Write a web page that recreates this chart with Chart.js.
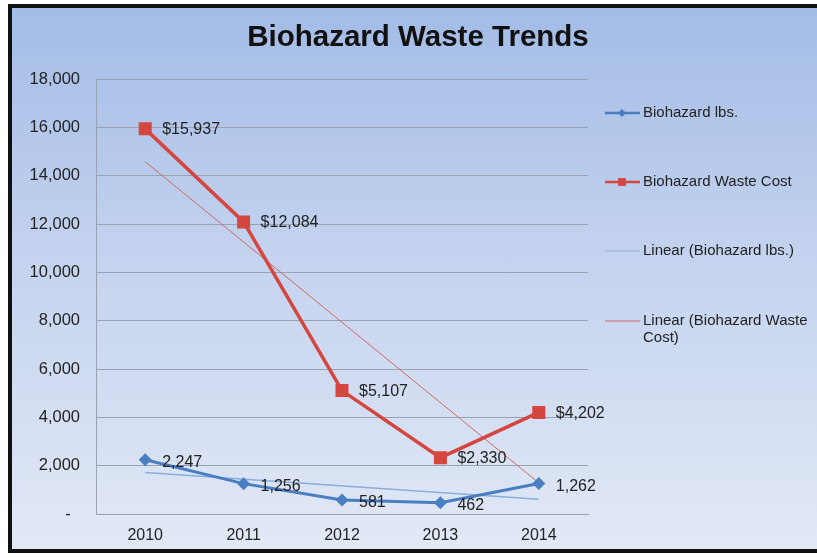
<!DOCTYPE html>
<html>
<head>
<meta charset="utf-8">
<script src="https://cdn.jsdelivr.net/npm/chart.js@4.4.1/dist/chart.umd.min.js"></script>
<style>
    html, body { margin: 0; padding: 0; width: 817px; height: 558px; overflow: hidden; background: #fff; }
    .frame {
        position: absolute; left: 8px; top: 4px; width: 840px; height: 549px;
        box-sizing: border-box; border: 4px solid #111;
        background: linear-gradient(to bottom, #a3bce6 0%, #c3d2ee 45%, #e2e9f6 100%);
    }
    #chart { position: absolute; left: 0; top: 0; }
</style>
</head>
<body>
<div class="frame"></div>
<canvas id="chart" width="817" height="558"></canvas>
<script>
// chart data
var years = ["2010", "2011", "2012", "2013", "2014"];
var biohazardLbs = [2247, 1256, 581, 462, 1262];
var biohazardCost = [15937, 12084, 5107, 2330, 4202];
// linear trend lines, end points
var trendLbs = [1714, null, null, null, 609];
var trendCost = [14577, null, null, null, 1287];
var yTicks = { min: 0, max: 18000, step: 2000 };

var FONT = "'Liberation Sans', Arial, sans-serif";
var BLUE = '#4a7ec2';
var RED = '#d4463f';

function fmt(n) {
    return n.toLocaleString('en-US');
}

// value labels next to the markers
var valueLabels = {
    id: 'valueLabels',
    afterDatasetsDraw: function (chart) {
        var ctx = chart.ctx;
        ctx.save();
        ctx.font = '16px ' + FONT;
        ctx.fillStyle = '#222';
        ctx.textAlign = 'left';
        ctx.textBaseline = 'middle';
        [0, 1].forEach(function (di) {
            var meta = chart.getDatasetMeta(di);
            var ds = chart.data.datasets[di];
            meta.data.forEach(function (pt, i) {
                var v = ds.data[i];
                var txt = di === 1 ? '$' + fmt(v) : fmt(v);
                ctx.fillText(txt, pt.x + 17, pt.y + (di === 0 ? 3 : 1));
            });
        });
        ctx.restore();
    }
};

// title and legend drawn by hand to sit where the original has them
var titleLegend = {
    id: 'titleLegend',
    afterDraw: function (chart) {
        var ctx = chart.ctx;
        ctx.save();
        ctx.fillStyle = '#111';
        ctx.font = 'bold 29.5px ' + FONT;
        ctx.textAlign = 'center';
        ctx.textBaseline = 'middle';
        ctx.fillText('Biohazard Waste Trends', 418, 38);

        var rows = [113, 182, 251, 321];
        ctx.font = '15px ' + FONT;
        ctx.textAlign = 'left';
        chart.data.datasets.forEach(function (ds, i) {
            var y = rows[i];
            ctx.strokeStyle = ds.borderColor;
            ctx.lineWidth = i < 2 ? 2.5 : 1.2;
            ctx.beginPath();
            ctx.moveTo(605, y);
            ctx.lineTo(640, y);
            ctx.stroke();
            if (i < 2) {
                ctx.fillStyle = ds.borderColor;
                Chart.helpers.drawPoint(ctx, { pointStyle: ds.pointStyle, radius: i === 0 ? 4 : 5.5, borderWidth: 0 }, 622, y);
            }
            // wrap long labels
            var words = ds.label.split(' ');
            var line = '', lines = [];
            words.forEach(function (w) {
                var test = line ? line + ' ' + w : w;
                if (ctx.measureText(test).width > 170 && line) {
                    lines.push(line);
                    line = w;
                } else {
                    line = test;
                }
            });
            lines.push(line);
            ctx.fillStyle = '#222';
            lines.forEach(function (l, k) {
                ctx.fillText(l, 643, y + k * 17);
            });
        });
        ctx.restore();
    }
};

var ctx = document.getElementById('chart').getContext('2d');

new Chart(ctx, {
    type: 'line',
    data: {
        labels: years,
        datasets: [
            {
                label: 'Biohazard lbs.',
                data: biohazardLbs,
                borderColor: BLUE,
                backgroundColor: BLUE,
                borderWidth: 3,
                pointStyle: 'rectRot',
                pointRadius: 6.5,
                pointBorderWidth: 0,
                tension: 0
            },
            {
                label: 'Biohazard Waste Cost',
                data: biohazardCost,
                borderColor: RED,
                backgroundColor: RED,
                borderWidth: 3.5,
                pointStyle: 'rect',
                pointRadius: 9.2,
                pointBorderWidth: 0,
                tension: 0
            },
            {
                label: 'Linear (Biohazard lbs.)',
                data: trendLbs,
                borderColor: '#8caddb',
                borderWidth: 1.5,
                pointRadius: 0,
                spanGaps: true
            },
            {
                label: 'Linear (Biohazard Waste Cost)',
                data: trendCost,
                borderColor: '#cf6a66',
                borderWidth: 1,
                pointRadius: 0,
                spanGaps: true
            }
        ]
    },
    options: {
        responsive: false,
        animation: false,
        layout: { padding: { left: 0, right: 229, top: 79, bottom: 0 } },
        plugins: {
            legend: { display: false },
            tooltip: { enabled: false },
            title: { display: false }
        },
        scales: {
            x: {
                offset: true,
                grid: { display: false, drawTicks: false },
                border: { display: true, color: '#98a2b2', width: 1 },
                ticks: { color: '#222', font: { family: FONT, size: 16 }, padding: 12 },
                afterFit: function (s) { s.height = 44; }
            },
            y: {
                min: yTicks.min,
                max: yTicks.max,
                grid: { color: '#98a2b2', lineWidth: 1, drawTicks: false },
                border: { display: true, color: '#98a2b2', width: 1 },
                ticks: {
                    stepSize: yTicks.step,
                    color: '#222',
                    font: { family: FONT, size: 16.5 },
                    padding: 16,
                    callback: function (v) { return v === 0 ? '-  ' : fmt(v); }
                },
                afterFit: function (s) { s.width = 96; }
            }
        }
    },
    plugins: [valueLabels, titleLegend]
});
</script>
</body>
</html>
